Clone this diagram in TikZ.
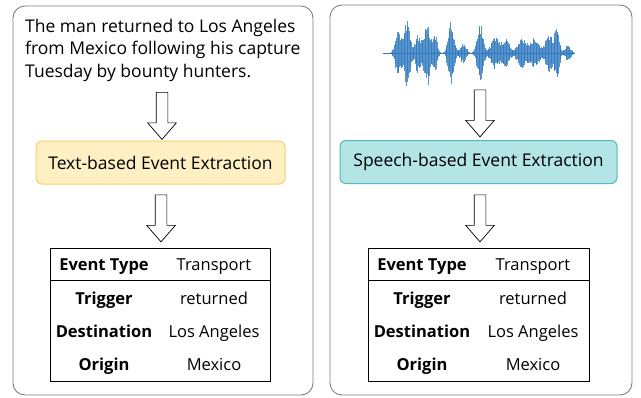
\documentclass[tikz,border=0pt]{standalone}
\usepackage{fontspec}
\setmainfont{Open Sans}
\usepackage{tikz}
\usetikzlibrary{shapes.arrows}
\usetikzlibrary{positioning}

\definecolor{framegray}{HTML}{7F7F7F}
\definecolor{textfill}{HTML}{FFF0C4}
\definecolor{textline}{HTML}{F6D06C}
\definecolor{speechfill}{HTML}{B3E4E6}
\definecolor{speechline}{HTML}{5CB6B8}
\definecolor{waveblue}{HTML}{2E78BE}

\begin{document}
\begin{tikzpicture}[x=1pt,y=-1pt,
    panel/.style={draw=framegray,line width=0.9pt,rounded corners=12pt},
    extractor/.style={draw,line width=1pt,rounded corners=6pt,minimum width=249pt,minimum height=43pt,inner sep=0pt,font=\fontsize{17.5}{18}\selectfont},
    downarrow/.style={single arrow,draw,line width=0.7pt,shape border rotate=270,minimum height=47pt,inner sep=5.5pt,single arrow head extend=8.5pt,single arrow tip angle=82},
    cell/.style={font=\fontsize{16.5}{18}\selectfont,inner sep=0pt,anchor=base},
    role/.style={cell,font=\fontsize{16.5}{18}\selectfont\bfseries}]
\useasboundingbox (0,0) rectangle (641,397);

% the two panels
\draw[panel] (13,6) rectangle (313,395);
\draw[panel] (330,5) rectangle (632,395);

% text input
\node[anchor=base west,inner sep=0pt,align=left,font=\fontsize{17.5}{22.5}\selectfont] (sentence) at (25,77)
    {The man returned to Los Angeles\\from Mexico following his capture\\Tuesday by bounty hunters.};

% speech input
\pgfmathsetseed{7}
\draw[waveblue,line width=0.8pt] (383,53) -- (575,53);
\foreach \i in {0,...,250}{
    \pgfmathsetmacro{\xx}{386+\i*0.75}
    \pgfmathsetmacro{\env}{22*exp(-((\xx-398)/4)^2)+34*exp(-((\xx-407)/4)^2)+20*exp(-((\xx-418)/4)^2)
        +34*exp(-((\xx-427)/4)^2)+20*exp(-((\xx-435)/3)^2)+32*exp(-((\xx-451)/4)^2)+10*exp(-((\xx-463)/4)^2)
        +30*exp(-((\xx-480)/4)^2)+16*exp(-((\xx-495)/6)^2)+14*exp(-((\xx-506)/5)^2)+16*exp(-((\xx-522)/6)^2)
        +16*exp(-((\xx-535)/6)^2)+20*exp(-((\xx-549)/5)^2)+28*exp(-((\xx-557)/3)^2)+8*exp(-((\xx-568)/4)^2)}
    \pgfmathsetmacro{\up}{\env*(0.6+0.4*rnd)}
    \pgfmathsetmacro{\dn}{\env*(0.6+0.4*rnd)}
    \draw[waveblue,opacity=0.8,line width=1pt] (\xx,53-\up) -- (\xx,53+\dn);
}
\coordinate (speech) at (479,84);

% extraction models
\node[extractor,draw=textline,fill=textfill] (textee) at (160.5,162.5) {Text-based Event Extraction};
\node[extractor,draw=speechline,fill=speechfill,minimum width=277pt] (speechee) at (478.5,162) {Speech-based Event Extraction};

% tables
\draw[line width=0.8pt] (50,248) rectangle (270,381);
\draw[line width=0.8pt] (50,280) -- (270,280);
\draw[line width=0.8pt] (368,248) rectangle (589,381);
\draw[line width=0.8pt] (368,280) -- (589,280);
\foreach \rolename/\arg/\y [count=\r] in {Event Type/Transport/270.5,Trigger/returned/304,Destination/Los Angeles/337.5,Origin/Mexico/370.5}{
    \node[role] (tr\r) at (104,\y) {\rolename};
    \node[cell] (ta\r) at (214,\y) {\arg};
    \node[role] (sr\r) at (422,\y) {\rolename};
    \node[cell] (sa\r) at (533,\y) {\arg};
}

% block arrows
\node[downarrow] (a1) at (162,112.5) {};
\node[downarrow] (a2) at (480,110) {};
\node[downarrow] (a3) at (161,215) {};
\node[downarrow] (a4) at (480,215) {};
\end{tikzpicture}
\end{document}
